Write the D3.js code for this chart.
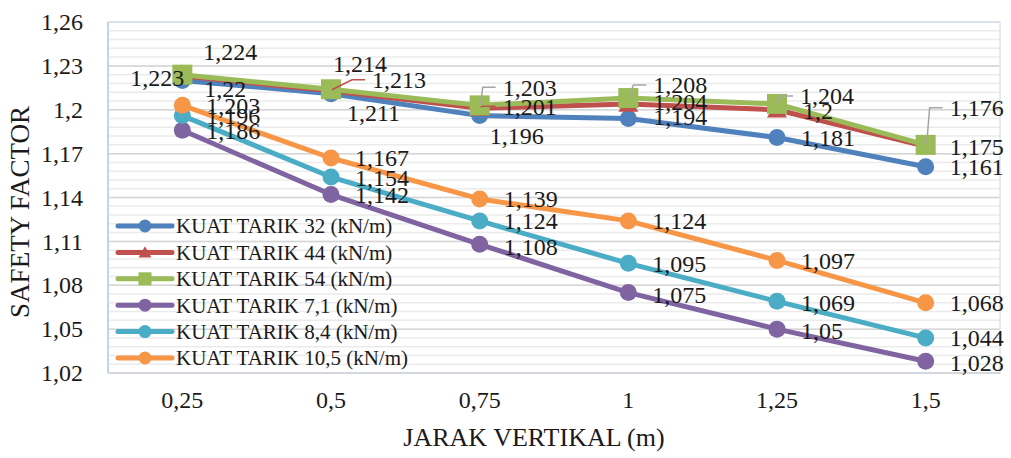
<!DOCTYPE html>
<html>
<head>
<meta charset="utf-8">
<script src="https://cdn.jsdelivr.net/npm/d3@7"></script>
</head>
<body style="margin:0;padding:0;background:#ffffff">
<svg id="chart" width="1011" height="458" style="display:block"></svg>
<script>
// Categories: vertical spacing (m)
const categories = ["0,25", "0,5", "0,75", "1", "1,25", "1,5"];

// Safety factor per tensile strength
const series32  = [1.22, 1.211, 1.196, 1.194, 1.181, 1.161];
const series44  = [1.223, 1.213, 1.201, 1.204, 1.2, 1.175];
const series54  = [1.224, 1.214, 1.203, 1.208, 1.204, 1.176];
const series71  = [1.186, 1.142, 1.108, 1.075, 1.05, 1.028];
const series84  = [1.196, 1.154, 1.124, 1.095, 1.069, 1.044];
const series105 = [1.203, 1.167, 1.139, 1.124, 1.097, 1.068];

const seriesNames = [
  "KUAT TARIK 32 (kN/m)", "KUAT TARIK 44 (kN/m)", "KUAT TARIK 54 (kN/m)",
  "KUAT TARIK 7,1 (kN/m)", "KUAT TARIK 8,4 (kN/m)", "KUAT TARIK 10,5 (kN/m)"
];

const yTicks = [1.02, 1.05, 1.08, 1.11, 1.14, 1.17, 1.2, 1.23, 1.26];

// Styling per series
const colors  = ["#4F81BD", "#C0504D", "#9BBB59", "#8064A2", "#4BACC6", "#F79646"];
const shapes  = ["circle", "triangle", "square", "circle", "circle", "circle"];
const FONT = "'Liberation Serif'";

// Data-label placement: [dx, dy, leader, anchorEnd]
const labelPlacement = [
  [[22, 8.5], [16, 19], [10, 20], [25, -2], [24, 0], [24, 0]],
  [[2, 1, 0, 1], [41, -11, 1], [23, -2, 1], [25, -2], [26, 1], [24, 0]],
  [[21, -23], [2, -26], [23, -18, 1], [25, -13, 1], [23, -8, 1], [24, -37, 1]],
  [[24, 0], [24, 0], [24, 2], [24, 2], [24, 1], [24, 1]],
  [[24, 0], [24, 1], [24, 0], [24, 0], [24, 1], [24, 0]],
  [[24, 0], [24, 0], [24, 0], [24, 0], [24, 0], [24, 0]]
];
const leaderColors = [null, "#C0504D", "#A6A6A6", null, null, null];

const allSeries = [series32, series44, series54, series71, series84, series105];

const svg = d3.select("#chart");
const plot = { left: 108, right: 1000, top: 22, bottom: 373 };

const x = d3.scaleBand().domain(categories).range([plot.left, plot.right]).padding(0);
const y = d3.scaleLinear().domain([1.02, 1.26]).range([plot.bottom, plot.top]);
const cx = c => x(c) + x.bandwidth() / 2;
const fmt = v => String(v).replace(".", ",");

// Every text element gets the serif face explicitly
const serif = (sel, size) => sel
  .style("font-family", FONT)
  .style("font-size", size + "px")
  .attr("fill", "#1a1a1a");

// Minor gridlines
const minor = d3.range(0, 41).map(i => 1.02 + i * 0.006);
svg.append("g").selectAll("line").data(minor).join("line")
  .attr("x1", plot.left).attr("x2", plot.right)
  .attr("y1", d => y(d)).attr("y2", d => y(d))
  .attr("stroke", "#ebebeb").attr("stroke-width", 1.5);

// Major gridlines
svg.append("g").selectAll("line").data(yTicks).join("line")
  .attr("x1", plot.left).attr("x2", plot.right)
  .attr("y1", d => y(d)).attr("y2", d => y(d))
  .attr("stroke", "#d6d6d6").attr("stroke-width", 1.5);

// Plot area frame
svg.append("rect")
  .attr("x", plot.left).attr("y", plot.top)
  .attr("width", plot.right - plot.left).attr("height", plot.bottom - plot.top)
  .attr("fill", "none").attr("stroke", "#dbe4f0").attr("stroke-width", 1.5);
svg.append("line")
  .attr("x1", plot.left).attr("x2", plot.left).attr("y1", plot.top).attr("y2", plot.bottom)
  .attr("stroke", "#c3d3e8").attr("stroke-width", 2);
svg.append("line")
  .attr("x1", plot.left).attr("x2", plot.right).attr("y1", plot.bottom).attr("y2", plot.bottom)
  .attr("stroke", "#d3d8de").attr("stroke-width", 2);

// Y axis
const yAxis = svg.append("g")
  .attr("transform", `translate(${plot.left},0)`)
  .call(d3.axisLeft(y).tickValues(yTicks).tickFormat(fmt).tickSize(0).tickPadding(25));
yAxis.select(".domain").remove();
serif(yAxis.selectAll("text"), 24);

// X axis
const xAxis = svg.append("g")
  .attr("transform", `translate(0,${plot.bottom})`)
  .call(d3.axisBottom(x).tickSize(0).tickPadding(18));
xAxis.select(".domain").remove();
serif(xAxis.selectAll("text"), 24);

// Axis titles
serif(svg.append("text")
  .attr("transform", "translate(29,212) rotate(-90)")
  .attr("text-anchor", "middle"), 27)
  .text("SAFETY FACTOR");
serif(svg.append("text")
  .attr("x", 534).attr("y", 446)
  .attr("text-anchor", "middle"), 26)
  .text("JARAK VERTIKAL (m)");

// Marker drawing
function drawMarker(g, shape, color, px, py, size) {
  if (shape === "circle") {
    g.append("circle").attr("cx", px).attr("cy", py).attr("r", size / 2).attr("fill", color);
  } else if (shape === "square") {
    g.append("rect").attr("x", px - size / 2).attr("y", py - size / 2)
      .attr("width", size).attr("height", size).attr("fill", color);
  } else {
    const h = size * 0.866;
    g.append("path")
      .attr("d", `M${px},${py - h * 0.55}L${px + size / 2},${py + h * 0.45}L${px - size / 2},${py + h * 0.45}Z`)
      .attr("fill", color);
  }
}

// Series lines and markers
const line = d3.line().x((d, i) => cx(categories[i])).y(d => y(d));
allSeries.forEach((vals, s) => {
  const g = svg.append("g");
  g.append("path").datum(vals).attr("d", line)
    .attr("fill", "none").attr("stroke", colors[s]).attr("stroke-width", 5)
    .attr("stroke-linejoin", "round");
  vals.forEach((v, i) => {
    const size = shapes[s] === "circle" ? 17 : 20;
    drawMarker(g, shapes[s], colors[s], cx(categories[i]), y(v), size);
  });
});

// Data labels with leader lines
allSeries.forEach((vals, s) => {
  const g = svg.append("g");
  vals.forEach((v, i) => {
    const px = cx(categories[i]), py = y(v);
    const p = labelPlacement[s][i];
    const lx = px + p[0], ly = py + p[1];
    if (p[2]) {
      g.append("path")
        .attr("d", `M${px + 1},${py - 1}L${lx - 20},${ly}L${lx - 7},${ly}`)
        .attr("fill", "none").attr("stroke", leaderColors[s]).attr("stroke-width", 1.5);
    }
    serif(g.append("text")
      .attr("x", lx).attr("y", ly)
      .attr("dy", "0.35em")
      .attr("text-anchor", p[3] ? "end" : "start"), 24)
      .text(fmt(v));
  });
});

// Legend
const legend = svg.append("g");
seriesNames.forEach((name, s) => {
  const ly = 226 + s * 26.4;
  legend.append("line")
    .attr("x1", 118).attr("x2", 172).attr("y1", ly).attr("y2", ly)
    .attr("stroke", colors[s]).attr("stroke-width", 5).attr("stroke-linecap", "round");
  drawMarker(legend, shapes[s], colors[s], 145, ly, 13);
  serif(legend.append("text")
    .attr("x", 176).attr("y", ly).attr("dy", "0.35em"), 21)
    .text(name);
});
</script>
</body>
</html>
